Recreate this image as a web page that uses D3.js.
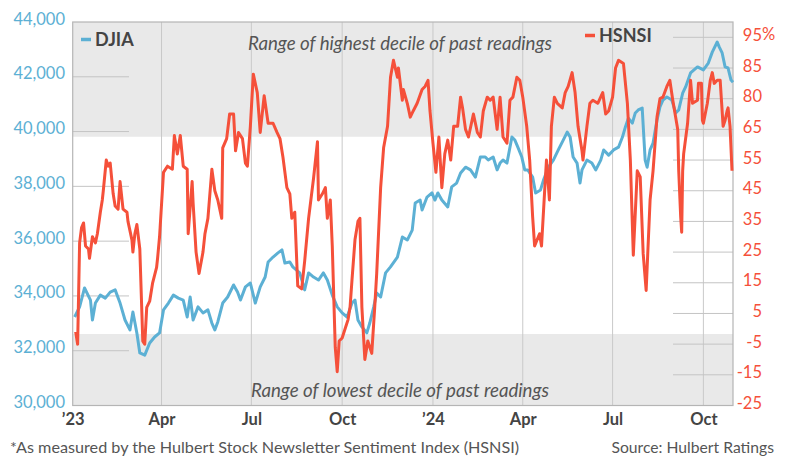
<!DOCTYPE html>
<html>
<head>
<meta charset="utf-8">
<script src="https://cdn.jsdelivr.net/npm/d3@7"></script>
<style>
  html, body { margin: 0; padding: 0; background: #fff; }
  svg { display: block; font-family: Lato, "Open Sans", sans-serif; }
</style>
</head>
<body>
<div class="js-d3"></div>
<script>
// DJIA close (left axis)
const djia = [
  ["2023-01-03",33230],["2023-01-08",33600],["2023-01-13",34290],["2023-01-19",33850],["2023-01-21",33120],
  ["2023-01-24",33740],["2023-01-29",34030],["2023-02-03",33920],["2023-02-08",34140],["2023-02-13",34220],
  ["2023-02-18",33740],["2023-02-23",33120],["2023-02-28",32760],["2023-03-03",33410],["2023-03-07",32650],
  ["2023-03-10",31920],["2023-03-15",31840],["2023-03-20",32280],["2023-03-25",32500],["2023-03-30",32650],
  ["2023-04-03",33490],["2023-04-08",33740],["2023-04-13",34030],["2023-04-18",33920],["2023-04-23",33850],
  ["2023-04-27",33230],["2023-04-30",33960],["2023-05-03",33120],["2023-05-08",33600],["2023-05-13",33380],
  ["2023-05-18",33490],["2023-05-22",33010],["2023-05-25",32760],["2023-05-28",33050],["2023-06-02",33740],
  ["2023-06-07",33960],["2023-06-13",34400],["2023-06-17",34140],["2023-06-20",33850],["2023-06-25",34330],
  ["2023-06-30",34470],["2023-07-05",33740],["2023-07-10",34330],["2023-07-15",34690],["2023-07-18",35240],
  ["2023-07-23",35420],["2023-07-28",35570],["2023-08-01",35680],["2023-08-04",35200],["2023-08-09",35240],
  ["2023-08-12",35060],["2023-08-19",34840],["2023-08-24",34220],["2023-08-28",34840],["2023-09-02",34690],
  ["2023-09-07",34580],["2023-09-12",34840],["2023-09-16",34580],["2023-09-21",34030],["2023-09-26",33600],
  ["2023-10-01",33380],["2023-10-06",33230],["2023-10-11",33740],["2023-10-14",33850],["2023-10-17",33120],
  ["2023-10-21",32870],["2023-10-26",32650],["2023-10-29",33010],["2023-11-02",33600],["2023-11-05",34110],
  ["2023-11-09",33960],["2023-11-14",34840],["2023-11-19",35060],["2023-11-26",35420],["2023-12-01",36150],
  ["2023-12-06",36040],["2023-12-11",36400],["2023-12-14",37390],["2023-12-19",37500],["2023-12-21",37140],
  ["2023-12-26",37610],["2023-12-31",37760],["2024-01-03",37500],["2024-01-06",37760],["2024-01-10",37500],
  ["2024-01-16",37250],["2024-01-20",37980],["2024-01-25",38120],["2024-01-29",38490],["2024-02-03",38700],
  ["2024-02-08",38600],["2024-02-13",38340],["2024-02-18",39070],["2024-02-23",39070],["2024-02-26",38960],
  ["2024-03-02",39070],["2024-03-06",38600],["2024-03-09",38850],["2024-03-12",38960],["2024-03-16",38850],
  ["2024-03-21",39800],["2024-03-24",39690],["2024-03-27",39430],["2024-03-31",39070],["2024-04-03",38600],
  ["2024-04-06",38600],["2024-04-11",38340],["2024-04-14",37760],["2024-04-19",37870],["2024-04-22",38230],
  ["2024-04-27",38700],["2024-05-02",38960],["2024-05-07",39330],["2024-05-12",39690],["2024-05-16",39980],
  ["2024-05-19",39800],["2024-05-22",39070],["2024-05-26",38850],["2024-05-29",38120],["2024-05-31",38600],
  ["2024-06-05",38960],["2024-06-10",38850],["2024-06-14",38600],["2024-06-19",38960],["2024-06-22",39330],
  ["2024-06-27",39140],["2024-07-02",39330],["2024-07-07",39430],["2024-07-11",39800],["2024-07-14",40170],
  ["2024-07-17",40490],["2024-07-21",40310],["2024-07-24",40680],["2024-07-27",40790],["2024-07-31",40860],
  ["2024-08-03",38960],["2024-08-05",38700],["2024-08-08",39330],["2024-08-11",39580],["2024-08-15",40420],
  ["2024-08-18",40900],["2024-08-21",41150],["2024-08-25",41260],["2024-08-30",41150],["2024-09-03",40680],
  ["2024-09-06",40790],["2024-09-10",41400],["2024-09-13",41630],["2024-09-18",42140],["2024-09-25",42360],
  ["2024-10-01",42250],["2024-10-06",42500],["2024-10-10",42900],["2024-10-15",43270],["2024-10-17",43090],
  ["2024-10-20",42870],["2024-10-23",42360],["2024-10-26",42320],["2024-10-29",41880],["2024-10-31",41800]
];

// Hulbert Stock Newsletter Sentiment Index (right axis)
const hsnsi = [
  ["2023-01-04",-1],["2023-01-06",-5],["2023-01-08",28],["2023-01-10",33],["2023-01-12",34.5],
  ["2023-01-14",27],["2023-01-17",26],["2023-01-18",23],["2023-01-21",30],["2023-01-24",28],
  ["2023-01-26",31],["2023-01-29",38],["2023-01-31",42],["2023-02-01",45],["2023-02-04",55],
  ["2023-02-06",53],["2023-02-08",54],["2023-02-11",44],["2023-02-13",40],["2023-02-16",39],
  ["2023-02-18",48],["2023-02-21",39],["2023-02-25",38],["2023-02-26",35],["2023-03-02",29],
  ["2023-03-03",25],["2023-03-05",31],["2023-03-07",34],["2023-03-10",26],["2023-03-13",-4],
  ["2023-03-15",-5],["2023-03-17",7],["2023-03-20",9],["2023-03-23",15],["2023-03-27",20],
  ["2023-03-28",23],["2023-03-30",30],["2023-04-03",51],["2023-04-07",53],["2023-04-12",52],
  ["2023-04-14",63],["2023-04-17",57],["2023-04-20",63],["2023-04-23",53],["2023-04-27",52],
  ["2023-04-28",31],["2023-05-02",48],["2023-05-03",41],["2023-05-06",25],["2023-05-09",18],
  ["2023-05-13",25],["2023-05-15",31],["2023-05-18",36],["2023-05-22",52],["2023-05-25",45],
  ["2023-05-28",42],["2023-06-01",36],["2023-06-02",59],["2023-06-06",62],["2023-06-09",70],
  ["2023-06-13",70],["2023-06-15",58],["2023-06-18",64],["2023-06-22",62],["2023-06-25",54],
  ["2023-06-27",53],["2023-06-30",66],["2023-07-03",83],["2023-07-07",77],["2023-07-10",64],
  ["2023-07-14",76],["2023-07-18",67],["2023-07-23",67],["2023-07-27",64],["2023-07-30",62],
  ["2023-08-02",56],["2023-08-06",46],["2023-08-09",44],["2023-08-11",36],["2023-08-14",38],
  ["2023-08-17",14],["2023-08-21",13],["2023-08-24",22],["2023-08-28",36],["2023-09-02",49],
  ["2023-09-06",61],["2023-09-07",42],["2023-09-11",44],["2023-09-14",46],["2023-09-16",36],
  ["2023-09-19",42],["2023-09-21",27],["2023-09-24",-6],["2023-09-26",-14],["2023-09-28",-4],
  ["2023-10-01",-3],["2023-10-04",0],["2023-10-07",3],["2023-10-09",7],["2023-10-11",16],
  ["2023-10-14",29],["2023-10-17",35],["2023-10-19",36],["2023-10-21",7],["2023-10-24",-10],
  ["2023-10-27",-4],["2023-10-31",-8],["2023-11-03",7],["2023-11-05",18],["2023-11-09",46],
  ["2023-11-12",59],["2023-11-16",66],["2023-11-19",82],["2023-11-22",87.5],["2023-11-26",82],
  ["2023-11-27",85],["2023-12-01",74.5],["2023-12-02",78],["2023-12-06",73.5],["2023-12-09",69],
  ["2023-12-12",71],["2023-12-16",73.5],["2023-12-21",78],["2023-12-24",79],["2023-12-27",81],
  ["2023-12-29",71],["2024-01-01",60.5],["2024-01-04",51],["2024-01-07",62.5],["2024-01-10",46],
  ["2024-01-13",57],["2024-01-16",61.5],["2024-01-19",55],["2024-01-22",66],["2024-01-26",66],
  ["2024-01-29",75.5],["2024-01-31",72],["2024-02-03",65],["2024-02-06",62.5],["2024-02-11",70],
  ["2024-02-15",64],["2024-02-18",62.5],["2024-02-21",71],["2024-02-25",75.5],["2024-02-28",74.5],
  ["2024-03-02",75.5],["2024-03-06",65],["2024-03-09",75.5],["2024-03-12",62.5],["2024-03-16",60.5],
  ["2024-03-19",74.5],["2024-03-22",75.5],["2024-03-26",82],["2024-03-29",81],["2024-04-01",75.5],
  ["2024-04-05",66],["2024-04-08",55],["2024-04-11",36.5],["2024-04-13",27],["2024-04-18",31],
  ["2024-04-20",27],["2024-04-23",44],["2024-04-25",55],["2024-04-28",42],["2024-04-30",66],
  ["2024-05-03",75.5],["2024-05-06",73.5],["2024-05-11",72],["2024-05-14",77],["2024-05-17",79],
  ["2024-05-21",83.5],["2024-05-24",77],["2024-05-27",66],["2024-05-31",58],["2024-06-01",55],
  ["2024-06-05",66],["2024-06-08",73.5],["2024-06-11",74.5],["2024-06-16",73.5],["2024-06-21",77],
  ["2024-06-24",70],["2024-06-27",71],["2024-07-01",75.5],["2024-07-04",85],["2024-07-07",87.5],
  ["2024-07-12",86.5],["2024-07-16",73.5],["2024-07-19",55],["2024-07-22",24],["2024-07-26",51.5],
  ["2024-07-29",49.5],["2024-08-01",24.5],["2024-08-04",12.5],["2024-08-08",42],["2024-08-11",51.5],
  ["2024-08-15",69],["2024-08-18",75],["2024-08-21",75.5],["2024-08-25",79],["2024-08-28",81],
  ["2024-08-31",74.5],["2024-09-05",65],["2024-09-06",51.5],["2024-09-08",36.5],["2024-09-09",31.5],
  ["2024-09-10",51.5],["2024-09-11",57],["2024-09-15",67],["2024-09-18",81],["2024-09-20",73.5],
  ["2024-09-25",74.5],["2024-09-26",80],["2024-09-29",80],["2024-09-30",68],["2024-10-01",67],
  ["2024-10-05",73.5],["2024-10-08",81],["2024-10-10",83.5],["2024-10-12",80],["2024-10-15",81],
  ["2024-10-18",81],["2024-10-21",66],["2024-10-23",68],["2024-10-25",71],["2024-10-26",72],
  ["2024-10-28",66],["2024-10-30",51.5]
];

const djiaTicks = [30000, 32000, 34000, 36000, 38000, 40000, 42000, 44000];
const hsnsiTicks = [95, 85, 75, 65, 55, 45, 35, 25, 15, 5, -5, -15, -25];
const hsnsiTickLabels = ["95", "85", "80", "65", "55", "45", "35", "25", "15", "5", "-5", "-15", "-25"];
const dateTicks = ["2023-01-01", "2023-04-01", "2023-07-01", "2023-10-01", "2024-01-01", "2024-04-01", "2024-07-01", "2024-10-01"];
const dateTickLabels = ["\u201923", "Apr", "Jul", "Oct", "\u201924", "Apr", "Jul", "Oct"];
// decile bands of HSNSI history
const highDecile = 62.6;
const lowDecile = -1.7;

const W = 791, H = 463;
const plot = { left: 72.7, right: 733, top: 22, bottom: 405.5 };
const blue = "#5cb0d4", red = "#f5503a";

const parse = d3.timeParse("%Y-%m-%d");

const x = d3.scaleTime()
  .domain([parse("2023-01-01"), parse("2024-10-31")])
  .range([plot.left, plot.right]);
const yL = d3.scaleLinear().domain([30000, 44000]).range([plot.bottom, plot.top]);
const yR = d3.scaleLinear().domain([-25, 100]).range([plot.bottom, plot.top]);

const svg = d3.select(".js-d3").append("svg").attr("width", W).attr("height", H);

// shaded decile bands
svg.append("rect")
  .attr("x", plot.left).attr("y", plot.top)
  .attr("width", plot.right - plot.left).attr("height", yR(highDecile) - plot.top)
  .attr("fill", "#e9e9e9");
svg.append("rect")
  .attr("x", plot.left).attr("y", yR(lowDecile))
  .attr("width", plot.right - plot.left).attr("height", plot.bottom - yR(lowDecile))
  .attr("fill", "#e9e9e9");

// quarter gridlines
svg.append("g").selectAll("line")
  .data(dateTicks.slice(1))
  .join("line")
  .attr("x1", (d) => x(parse(d))).attr("x2", (d) => x(parse(d)))
  .attr("y1", plot.top).attr("y2", plot.bottom)
  .attr("stroke", "#c9c9c9").attr("stroke-width", 1);

// short horizontal gridlines near each axis
svg.append("g").selectAll("line")
  .data(djiaTicks.slice(1, -1))
  .join("line")
  .attr("x1", plot.left).attr("x2", 129)
  .attr("y1", (d) => yL(d)).attr("y2", (d) => yL(d))
  .attr("stroke", "#c4c4c4");
svg.append("g").selectAll("line")
  .data(hsnsiTicks.slice(0, -1))
  .join("line")
  .attr("x1", 673).attr("x2", plot.right)
  .attr("y1", (d) => yR(d)).attr("y2", (d) => yR(d))
  .attr("stroke", "#c4c4c4");

// plot frame
svg.append("rect")
  .attr("x", plot.left).attr("y", plot.top)
  .attr("width", plot.right - plot.left).attr("height", plot.bottom - plot.top)
  .attr("fill", "none").attr("stroke", "#b5b5b5").attr("stroke-width", 1.2);

// band labels
svg.append("text")
  .attr("x", 400).attr("y", 49.5)
  .attr("text-anchor", "middle")
  .attr("font-style", "italic").attr("font-size", 18.7).attr("fill", "#555")
  .text("Range of highest decile of past readings");
svg.append("text")
  .attr("x", 400).attr("y", 396.5)
  .attr("text-anchor", "middle")
  .attr("font-style", "italic").attr("font-size", 18.7).attr("fill", "#555")
  .text("Range of lowest decile of past readings");

// lines
const djiaLine = d3.line()
  .x((d) => x(parse(d[0])))
  .y((d) => yL(d[1]));
const hsnsiLine = d3.line()
  .x((d) => x(parse(d[0])))
  .y((d) => yR(d[1]));

svg.append("path")
  .datum(djia)
  .attr("d", djiaLine)
  .attr("fill", "none").attr("stroke", blue).attr("stroke-width", 3)
  .attr("stroke-linejoin", "round");
svg.append("path")
  .datum(hsnsi)
  .attr("d", hsnsiLine)
  .attr("fill", "none").attr("stroke", red).attr("stroke-width", 3)
  .attr("stroke-linejoin", "round");

// axes
const leftAxis = svg.append("g")
  .attr("transform", "translate(65,0)")
  .call(d3.axisLeft(yL).tickValues(djiaTicks).tickSize(0).tickPadding(0).tickFormat(d3.format(",")));
leftAxis.select(".domain").remove();
leftAxis.selectAll("text")
  .attr("dy", 2).attr("fill", blue)
  .attr("font-size", 16.5).attr("font-family", "Lato");

const rightAxis = svg.append("g")
  .attr("transform", "translate(762,0)")
  .call(d3.axisRight(yR).tickValues(hsnsiTicks).tickSize(0).tickPadding(0)
    .tickFormat((d, i) => hsnsiTickLabels[i]));
rightAxis.select(".domain").remove();
rightAxis.selectAll("text")
  .attr("x", 0).attr("dy", 3).attr("text-anchor", "end").attr("fill", red)
  .attr("font-size", 16.5).attr("font-family", "Lato");
svg.append("text")
  .attr("x", 762).attr("y", yR(95) + 3)
  .attr("fill", red).attr("font-size", 16.5)
  .text("%");

const bottomAxis = svg.append("g")
  .attr("transform", `translate(0,${plot.bottom})`)
  .call(d3.axisBottom(x).tickValues(dateTicks.map(parse)).tickSize(0).tickPadding(8)
    .tickFormat((d, i) => dateTickLabels[i]));
bottomAxis.select(".domain").remove();
bottomAxis.selectAll("text")
  .attr("fill", "#444").attr("font-size", 16.5).attr("font-weight", "bold")
  .attr("font-family", "Lato");

// legend
svg.append("line")
  .attr("x1", 81).attr("x2", 91).attr("y1", 39.5).attr("y2", 39.5)
  .attr("stroke", blue).attr("stroke-width", 3.5);
svg.append("text")
  .attr("x", 95).attr("y", 46)
  .attr("font-size", 18).attr("font-weight", "bold").attr("fill", "#444")
  .text("DJIA");
svg.append("line")
  .attr("x1", 585).attr("x2", 595).attr("y1", 35.5).attr("y2", 35.5)
  .attr("stroke", red).attr("stroke-width", 3.5);
svg.append("text")
  .attr("x", 599).attr("y", 42)
  .attr("font-size", 18).attr("font-weight", "bold").attr("fill", "#444")
  .text("HSNSI");

// footer
svg.append("text")
  .attr("x", 10).attr("y", 453)
  .attr("font-size", 16.2).attr("fill", "#555")
  .text("*As measured by the Hulbert Stock Newsletter Sentiment Index (HSNSI)");
svg.append("text")
  .attr("x", 774).attr("y", 453)
  .attr("text-anchor", "end")
  .attr("font-size", 15.7).attr("fill", "#555")
  .text("Source: Hulbert Ratings");
</script>
</body>
</html>
